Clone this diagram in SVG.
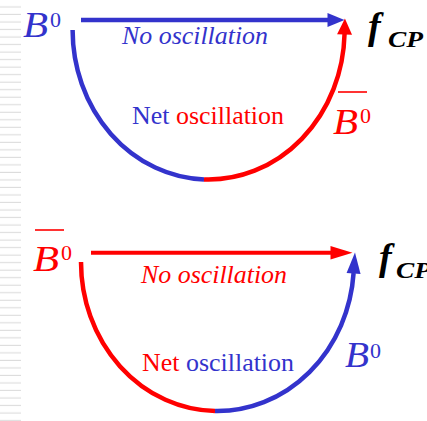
<svg xmlns="http://www.w3.org/2000/svg" width="427" height="421" viewBox="0 0 427 421" font-family="'Liberation Serif', 'Times New Roman', serif">
  <defs>
    <style>
      text { font-family: "Liberation Serif", "Times New Roman", serif; }
      .big { font-size: 36px; font-style: italic; }
      .sup { font-size: 22px; }
      .lbl { font-size: 25px; }
      .it { font-style: italic; }
      .f { font-size: 38px; font-style: italic; font-weight: bold; fill: #000; }
      .cp { font-size: 24px; font-style: italic; font-weight: bold; fill: #000; }
      .blue { fill: #3333cc; }
      .red { fill: #ff0000; }
      .sb { stroke: #3333cc; fill: none; stroke-width: 4.5; }
      .sr { stroke: #ff0000; fill: none; stroke-width: 4.5; }
    </style>
    <pattern id="stripes" x="0" y="0" width="21" height="7.52" patternUnits="userSpaceOnUse">
      <rect x="0" y="6.4" width="21" height="1.6" fill="#dcdcdc"/>
    </pattern>
    <marker id="ahB1" markerUnits="userSpaceOnUse" markerWidth="18" markerHeight="15" refX="0.5" refY="7" orient="auto" overflow="visible">
      <path d="M0,0 L17,7 L0,14 Z" fill="#3333cc"/>
    </marker>
    <marker id="ahR1" markerUnits="userSpaceOnUse" markerWidth="18" markerHeight="15" refX="0.5" refY="7.5" orient="auto" overflow="visible">
      <path d="M0,0 L16,7.5 L0,15 Z" fill="#ff0000"/>
    </marker>
    <marker id="ahR2" markerUnits="userSpaceOnUse" markerWidth="23" markerHeight="14" refX="0.5" refY="6.75" orient="auto" overflow="visible">
      <path d="M0,0 L22,6.75 L0,13.5 Z" fill="#ff0000"/>
    </marker>
    <marker id="ahB2" markerUnits="userSpaceOnUse" markerWidth="22" markerHeight="15" refX="0.5" refY="7" orient="auto" overflow="visible">
      <path d="M0,0 L21,7 L0,14 Z" fill="#3333cc"/>
    </marker>
  </defs>

  <rect x="0" y="0" width="427" height="421" fill="#ffffff"/>
  <rect x="0" y="0" width="21" height="421" fill="url(#stripes)"/>

  <g id="connectors">
    <!-- top diagram -->
    <path class="sb" d="M81,20 H328" marker-end="url(#ahB1)"/>
    <path class="sb" d="M72.6,30 A136,149.5 0 0 0 204,179.4"/>
    <path class="sr" d="M204,179.4 A136,149.5 0 0 0 344.55,34" marker-end="url(#ahR1)"/>
    <!-- bottom diagram -->
    <path class="sr" d="M91,252.7 H331" marker-end="url(#ahR2)" style="stroke-width:4"/>
    <path class="sr" d="M81,262 A136.5,149 0 0 0 215,411"/>
    <path class="sb" d="M215,411 A136.5,149 0 0 0 353.6,273" marker-end="url(#ahB2)"/>
  </g>

  <!-- top diagram nodes -->
  <g id="top-B0">
    <text class="big blue" x="23" y="37" textLength="25" lengthAdjust="spacingAndGlyphs">B</text>
    <text class="sup blue" x="50" y="27">0</text>
  </g>
  <g id="top-fCP">
    <text class="f" x="368" y="39">f</text>
    <text class="cp" x="388" y="47" textLength="35" lengthAdjust="spacingAndGlyphs">CP</text>
  </g>
  <g id="top-B0bar">
    <line x1="338" y1="92" x2="367" y2="92" stroke="#ff0000" stroke-width="1.6"/>
    <text class="big red" x="333" y="134" textLength="25" lengthAdjust="spacingAndGlyphs">B</text>
    <text class="sup red" x="360" y="123">0</text>
  </g>
  <g id="top-labels">
    <text class="lbl it blue" x="122" y="44" textLength="146" lengthAdjust="spacingAndGlyphs">No oscillation</text>
    <text class="lbl" x="132" y="124" textLength="152" lengthAdjust="spacingAndGlyphs"><tspan class="blue">Net </tspan><tspan class="red">oscillation</tspan></text>
  </g>

  <!-- bottom diagram nodes -->
  <g id="bottom-B0bar">
    <line x1="35" y1="230" x2="64" y2="230" stroke="#ff0000" stroke-width="1.6"/>
    <text class="big red" x="33" y="271" textLength="26" lengthAdjust="spacingAndGlyphs">B</text>
    <text class="sup red" x="61" y="260">0</text>
  </g>
  <g id="bottom-fCP">
    <text class="f" x="379" y="270">f</text>
    <text class="cp" x="396" y="278" textLength="35" lengthAdjust="spacingAndGlyphs">CP</text>
  </g>
  <g id="bottom-B0">
    <text class="big blue" x="345" y="367" textLength="24" lengthAdjust="spacingAndGlyphs">B</text>
    <text class="sup blue" x="370" y="358">0</text>
  </g>
  <g id="bottom-labels">
    <text class="lbl it red" x="141" y="283" textLength="146" lengthAdjust="spacingAndGlyphs">No oscillation</text>
    <text class="lbl" x="142" y="371" textLength="152" lengthAdjust="spacingAndGlyphs"><tspan class="red">Net </tspan><tspan class="blue">oscillation</tspan></text>
  </g>
</svg>
